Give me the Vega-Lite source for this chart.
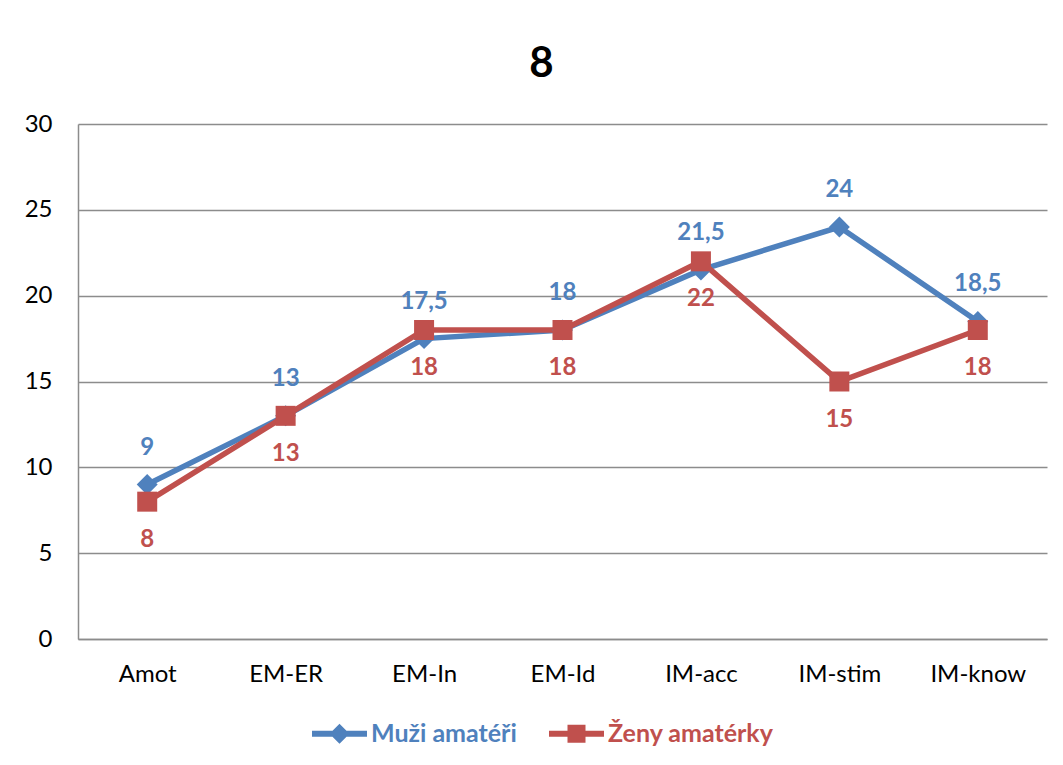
{
  "$schema": "https://vega.github.io/schema/vega-lite/v6.json",
  "width": 969,
  "height": 515,
  "autosize": "none",
  "padding": {"left": 78, "top": 124, "right": 16, "bottom": 126},
  "background": "white",
  "config": {
    "locale": {"number": {"decimal": ",", "thousands": " ", "grouping": [3], "currency": ["", " Kč"]}},
    "font": "Lato",
    "view": {"stroke": null}
  },
  "title": {
    "text": "8",
    "font": "Lato",
    "fontSize": 42,
    "fontWeight": "bold",
    "color": "#000000",
    "frame": "group",
    "anchor": "middle",
    "dx": -21,
    "baseline": "alphabetic",
    "offset": -7
  },
  "data": {
    "values": [
      {"kategorie": "Amot", "skupina": "Muži amatéři", "hodnota": 9},
      {"kategorie": "EM-ER", "skupina": "Muži amatéři", "hodnota": 13},
      {"kategorie": "EM-In", "skupina": "Muži amatéři", "hodnota": 17.5},
      {"kategorie": "EM-Id", "skupina": "Muži amatéři", "hodnota": 18},
      {"kategorie": "IM-acc", "skupina": "Muži amatéři", "hodnota": 21.5},
      {"kategorie": "IM-stim", "skupina": "Muži amatéři", "hodnota": 24},
      {"kategorie": "IM-know", "skupina": "Muži amatéři", "hodnota": 18.5},
      {"kategorie": "Amot", "skupina": "Ženy amatérky", "hodnota": 8},
      {"kategorie": "EM-ER", "skupina": "Ženy amatérky", "hodnota": 13},
      {"kategorie": "EM-In", "skupina": "Ženy amatérky", "hodnota": 18},
      {"kategorie": "EM-Id", "skupina": "Ženy amatérky", "hodnota": 18},
      {"kategorie": "IM-acc", "skupina": "Ženy amatérky", "hodnota": 22},
      {"kategorie": "IM-stim", "skupina": "Ženy amatérky", "hodnota": 15},
      {"kategorie": "IM-know", "skupina": "Ženy amatérky", "hodnota": 18}
    ]
  },
  "encoding": {
    "x": {
      "field": "kategorie",
      "type": "nominal",
      "sort": ["Amot", "EM-ER", "EM-In", "EM-Id", "IM-acc", "IM-stim", "IM-know"],
      "scale": {"paddingInner": 0, "paddingOuter": 0},
      "axis": {
        "title": null,
        "labelAngle": 0,
        "labelFont": "Lato",
        "labelFontSize": 24,
        "labelColor": "#000000",
        "labelBaseline": "top",
        "labelPadding": 23,
        "ticks": false,
        "grid": false,
        "domainColor": "#8c8c8c",
        "domainWidth": 1.5
      }
    },
    "y": {
      "field": "hodnota",
      "type": "quantitative",
      "scale": {"domain": [0, 30], "nice": false, "zero": true},
      "axis": {
        "title": null,
        "values": [0, 5, 10, 15, 20, 25, 30],
        "labelFont": "Lato",
        "labelFontSize": 24,
        "labelColor": "#000000",
        "labelPadding": 26,
        "ticks": false,
        "grid": true,
        "gridColor": "#8c8c8c",
        "gridWidth": 1.5,
        "domainColor": "#8c8c8c",
        "domainWidth": 1.5
      }
    },
    "color": {
      "field": "skupina",
      "type": "nominal",
      "sort": ["Muži amatéři", "Ženy amatérky"],
      "scale": {"domain": ["Muži amatéři", "Ženy amatérky"], "range": ["#4F81BD", "#C0504D"]},
      "legend": {
        "orient": "none",
        "legendX": 249,
        "legendY": 597,
        "direction": "horizontal",
        "title": null,
        "padding": 0,
        "labelFont": "Lato",
        "labelFontSize": 25,
        "labelFontWeight": "bold",
        "labelLimit": 400,
        "labelOffset": 19,
        "columnPadding": 32,
        "symbolSize": 400,
        "encode": {
          "symbols": {
            "update": {
              "shape": {"signal": "datum.value === 'Muži amatéři' ? 'M-2.75,-0.3H2.75V0.3H-2.75Z M0,-1L1,0L0,1L-1,0Z' : 'M-2.75,-0.3H2.75V0.3H-2.75Z M-0.9,-0.9H0.9V0.9H-0.9Z'"},
              "fill": {"signal": "datum.value === 'Muži amatéři' ? '#4F81BD' : '#C0504D'"},
              "stroke": {"value": "transparent"},
              "strokeWidth": {"value": 0},
              "opacity": {"value": 1},
              "size": {"value": 400}
            }
          },
          "labels": {
            "update": {
              "fill": {"signal": "datum.value === 'Muži amatéři' ? '#4F81BD' : '#C0504D'"}
            }
          }
        }
      }
    }
  },
  "layer": [
    {
      "mark": {"type": "line", "strokeWidth": 5.5}
    },
    {
      "transform": [{"filter": "datum.skupina === 'Muži amatéři'"}],
      "mark": {"type": "point", "filled": true, "opacity": 1, "size": 440, "shape": "diamond"}
    },
    {
      "transform": [{"filter": "datum.skupina === 'Ženy amatérky'"}],
      "mark": {"type": "point", "filled": true, "opacity": 1, "size": 400, "shape": "square"}
    },
    {
      "transform": [{"filter": "datum.skupina === 'Muži amatéři'"}],
      "mark": {"type": "text", "dy": -37, "font": "Lato", "fontSize": 24, "fontWeight": "bold", "baseline": "middle"},
      "encoding": {"text": {"field": "hodnota", "type": "quantitative", "format": ".1~f"}}
    },
    {
      "transform": [{"filter": "datum.skupina === 'Ženy amatérky'"}],
      "mark": {"type": "text", "dy": 38, "font": "Lato", "fontSize": 24, "fontWeight": "bold", "baseline": "middle"},
      "encoding": {"text": {"field": "hodnota", "type": "quantitative", "format": ".1~f"}}
    }
  ]
}
